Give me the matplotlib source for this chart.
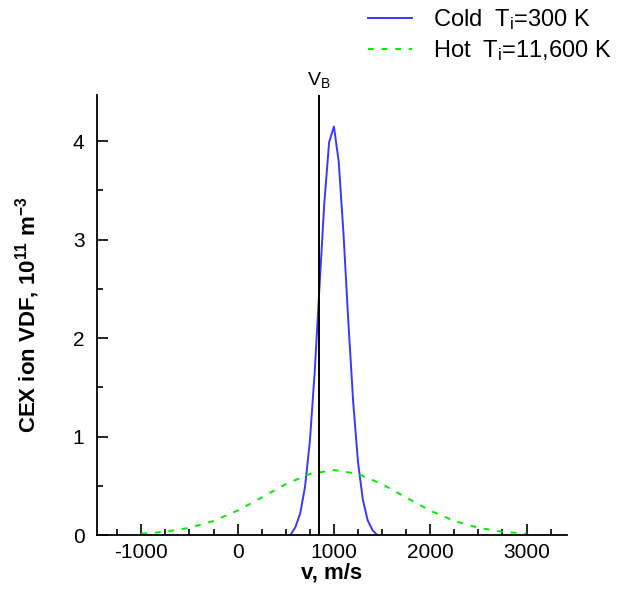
import matplotlib
matplotlib.use('Agg')
import matplotlib.pyplot as plt
from matplotlib.ticker import MultipleLocator

plt.rcParams['font.family'] = 'Liberation Sans'
plt.rcParams['mathtext.fontset'] = 'custom'
plt.rcParams['mathtext.rm'] = 'Liberation Sans'
plt.rcParams['mathtext.it'] = 'Liberation Sans'
plt.rcParams['mathtext.bf'] = 'Liberation Sans:bold'
plt.rcParams['axes.unicode_minus'] = False

# velocity (m/s) and CEX ion VDF (1e11 m^-3)
v_cold = [550, 600, 650, 700, 750, 800, 850, 900, 950, 1000, 1050,
          1100, 1150, 1200, 1250, 1300, 1350, 1400, 1450]
f_cold = [0.0, 0.08, 0.22, 0.49, 0.95, 1.65, 2.52, 3.37, 3.99, 4.15, 3.79,
          3.05, 2.16, 1.35, 0.74, 0.36, 0.15, 0.05, 0.0]

v_hot = [-1000, -750, -500, -250, 0, 250, 500, 750, 1000, 1250, 1500,
         1750, 2000, 2250, 2500, 2750, 3000]
f_hot = [0.013, 0.033, 0.073, 0.143, 0.248, 0.381, 0.517, 0.621, 0.66, 0.621,
         0.517, 0.381, 0.248, 0.143, 0.073, 0.033, 0.013]

v_beam = 840
labels = ['Cold  T$_\\mathrm{i}$=300 K', 'Hot  T$_\\mathrm{i}$=11,600 K']

fig = plt.figure(figsize=(6.24, 5.90), dpi=100)
ax = fig.add_axes([0.1554, 0.0932, 0.7533, 0.7458])

l1, = ax.plot(v_cold, f_cold, color='#3838ff', lw=1.4)
l2, = ax.plot(v_hot, f_hot, color='#00ee00', lw=1.4, ls=(0, (3, 4)))
ax.axvline(v_beam, color='black', lw=1.4)
ax.text(v_beam, 4.52, 'V$_\\mathrm{B}$', ha='center', va='bottom', fontsize=14)

ax.set_xlim(-1460, 3420)
ax.set_ylim(0, 4.47)
ax.xaxis.set_major_locator(MultipleLocator(1000))
ax.xaxis.set_minor_locator(MultipleLocator(250))
ax.yaxis.set_major_locator(MultipleLocator(1))
ax.yaxis.set_minor_locator(MultipleLocator(0.5))
ax.tick_params(which='both', direction='in', width=1.2, labelsize=15, pad=6)
ax.tick_params(axis='y', pad=9)
ax.tick_params(which='major', length=8)
ax.tick_params(which='minor', length=4)
ax.spines['top'].set_visible(False)
ax.spines['right'].set_visible(False)
for s in ['left', 'bottom']:
    ax.spines[s].set_linewidth(1.3)

ax.set_xlabel('v, m/s', fontsize=16, fontweight='bold', labelpad=0)
ax.set_ylabel('CEX ion VDF, $\\mathbf{10^{11}\\ m^{-3}}$', fontsize=16,
              fontweight='bold', labelpad=22)

fig.legend([l1, l2], labels, loc='upper left', bbox_to_anchor=(0.59, 0.988),
           frameon=False, fontsize=17, handlelength=1.86, handletextpad=0.9,
           labelspacing=0.25, borderpad=0, borderaxespad=0)

plt.savefig('out.png')
